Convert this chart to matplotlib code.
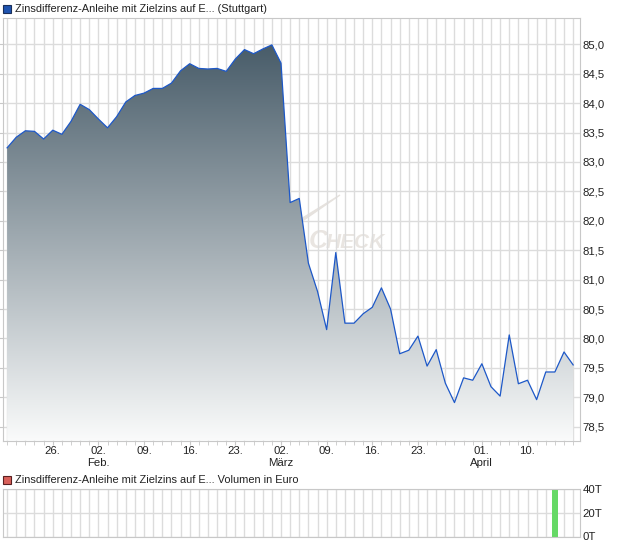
import numpy as np
import matplotlib
matplotlib.use("Agg")
import matplotlib.pyplot as plt
from matplotlib.patches import Rectangle, Polygon
from matplotlib.ticker import FixedLocator, MultipleLocator, FuncFormatter
from matplotlib.colors import to_rgb

plt.rcParams['font.family'] = ['Liberation Sans', 'DejaVu Sans']

# ---- data ----
prices = [83.24, 83.42, 83.53, 83.52, 83.39, 83.54, 83.47, 83.69, 83.98, 83.89,
          83.73, 83.58, 83.77, 84.02, 84.13, 84.17, 84.25, 84.25, 84.34, 84.55,
          84.67, 84.59, 84.58, 84.59, 84.54, 84.75, 84.91, 84.84, 84.92, 84.99,
          84.68, 82.31, 82.38, 81.28, 80.80, 80.15, 81.46, 80.26, 80.26, 80.42,
          80.53, 80.86, 80.50, 79.74, 79.80, 80.04, 79.53, 79.81, 79.24, 78.91,
          79.33, 79.29, 79.57, 79.18, 79.02, 80.06, 79.23, 79.29, 78.96, 79.43,
          79.43, 79.77, 79.55]
day_labels = ["26.", "02.", "09.", "16.", "23.", "02.", "09.", "16.", "23.", "01.", "10."]
day_pos = [5, 10, 15, 20, 25, 30, 35, 40, 45, 52, 57]
month_labels = {10: "Feb.", 30: "März", 52: "April"}
y_ticks = [78.5, 79.0, 79.5, 80.0, 80.5, 81.0, 81.5, 82.0, 82.5, 83.0, 83.5, 84.0, 84.5, 85.0]
volume_idx = [60]
volume_vals = [40000]
vol_ticks = [0, 20000, 40000]
vol_labels = ["0T", "20T", "40T"]
title_main = "Zinsdifferenz-Anleihe mit Zielzins auf E... (Stuttgart)"
title_vol = "Zinsdifferenz-Anleihe mit Zielzins auf E... Volumen in Euro"

W, H = 620, 546
fig = plt.figure(figsize=(W / 100, H / 100), dpi=100)
fig.patch.set_facecolor('white')

def box(l, t, r, b):
    return [l / W, 1 - b / H, (r - l) / W, (b - t) / H]

GRID = '#dcdcdc'
SPINE = '#c8c8c8'
TXT = '#222222'
FS = 8.2
FS_T = 7.95

x = np.arange(len(prices))
xlim = (-0.45, 62.75)
ylim = (78.262, 85.447)

ax = fig.add_axes(box(3, 18, 580, 440.7))
ax.set_xlim(*xlim)
ax.set_ylim(*ylim)

# gradient fill under line
top_c = np.array(to_rgb('#485c69'))
bot_c = np.array(to_rgb('#fafbfb'))
t = np.linspace(0, 1, 256)[:, None]
grad = (top_c[None, :] * (1 - t) + bot_c[None, :] * t)[:, None, :]
im = ax.imshow(grad, extent=(xlim[0], xlim[1], ylim[0], 85.0), origin='upper',
               aspect='auto', zorder=1, interpolation='bilinear')
verts = list(zip(x, prices)) + [(x[-1], ylim[0]), (x[0], ylim[0])]
patch = Polygon(verts, closed=True, facecolor='none', edgecolor='none', transform=ax.transData)
ax.add_patch(patch)
im.set_clip_path(patch)
ax.plot(x, prices, color='#1d58c8', lw=0.9, zorder=3)
ax.set_xlim(*xlim)
ax.set_ylim(*ylim)

# grid
ax.xaxis.set_major_locator(FixedLocator(day_pos))
ax.xaxis.set_minor_locator(MultipleLocator(1))
ax.set_xticklabels([lab + ("\n" + month_labels[p] if p in month_labels else "")
                    for lab, p in zip(day_labels, day_pos)])
ax.yaxis.set_major_locator(FixedLocator(y_ticks))
ax.yaxis.set_major_formatter(FuncFormatter(lambda v, p: f"{v:.1f}".replace('.', ',')))
ax.grid(True, which='both', axis='x', color=GRID, lw=1.0, zorder=0)
ax.grid(True, which='major', axis='y', color=GRID, lw=1.0, zorder=0)
ax.set_axisbelow(True)
ax.tick_params(axis='x', which='both', length=3, color=SPINE, pad=1, labelsize=FS, labelcolor=TXT)
ax.tick_params(axis='y', which='both', left=True, right=False, labelleft=False, labelright=True,
               length=3, color=SPINE, pad=-1, labelsize=FS, labelcolor=TXT)
for s in ax.spines.values():
    s.set_color(SPINE)

# watermark
ax.text(309 / W, 1 - 248 / H, "C", transform=fig.transFigure, fontsize=19, fontstyle='italic',
        fontweight='bold', color='#e9e5e1', zorder=0.5)
ax.text(326 / W, 1 - 248 / H, "HECK", transform=fig.transFigure, fontsize=15, fontstyle='italic',
        fontweight='bold', color='#e9e5e1', zorder=0.5)
sw = Polygon([(298 / W, 1 - 224 / H), (340 / W, 1 - 195 / H), (301 / W, 1 - 219 / H)],
             closed=True, transform=fig.transFigure, facecolor='#e6e2de', edgecolor='#e6e2de',
             lw=1.0, zorder=0.5)
ax.add_patch(sw)

# titles and markers
fig.add_artist(Rectangle((3 / W, 1 - 13 / H), 8 / W, 8 / H, transform=fig.transFigure,
                         facecolor='#1f54b0', edgecolor='#1a2f5a', lw=0.8))
fig.text(15 / W, 1 - 9 / H, title_main, fontsize=FS_T, color=TXT, va='center', ha='left')
fig.add_artist(Rectangle((3 / W, 1 - 484 / H), 8 / W, 8 / H, transform=fig.transFigure,
                         facecolor='#d9605a', edgecolor='#5a2020', lw=0.8))
fig.text(15 / W, 1 - 480 / H, title_vol, fontsize=FS_T, color=TXT, va='center', ha='left')

# volume panel
av = fig.add_axes(box(3, 489, 580, 536.5))
av.set_xlim(*xlim)
av.set_ylim(0, 40000)
av.bar(volume_idx, volume_vals, width=0.62, color='#66d966', zorder=2)
av.xaxis.set_major_locator(MultipleLocator(1))
av.set_xticklabels([])
av.tick_params(axis='x', length=0)
av.yaxis.set_major_locator(FixedLocator(vol_ticks))
av.set_yticklabels(vol_labels)
av.tick_params(axis='y', left=False, right=False, labelleft=False, labelright=True,
               length=3, pad=-1, labelsize=FS, labelcolor=TXT)
av.grid(True, axis='both', color=GRID, lw=1.0, zorder=0)
av.set_axisbelow(True)
for s in av.spines.values():
    s.set_color(SPINE)

fig.savefig('out.png', dpi=100)
